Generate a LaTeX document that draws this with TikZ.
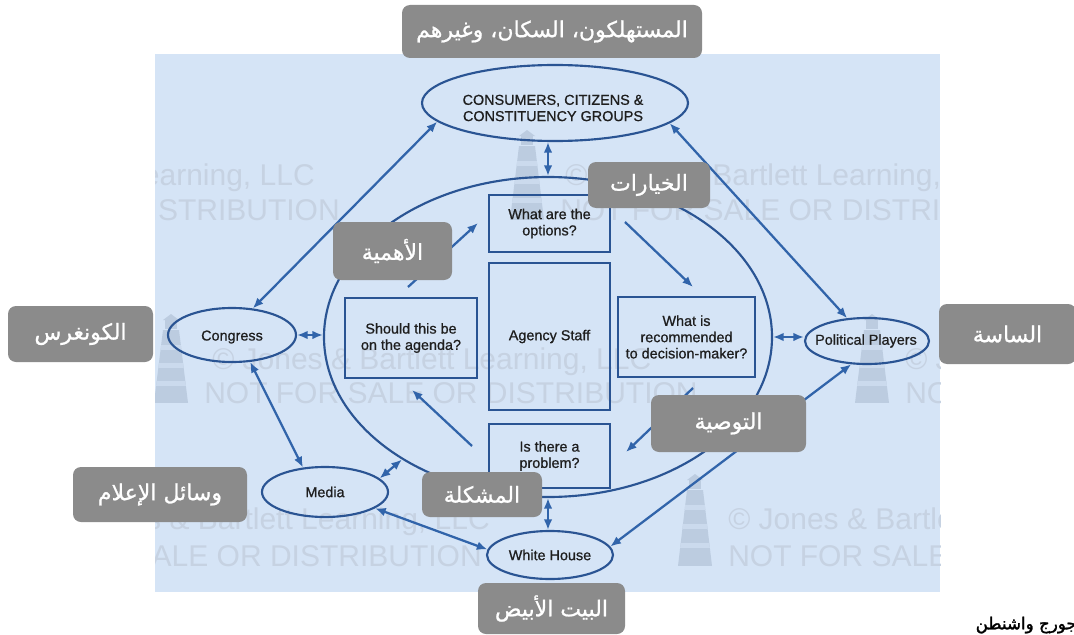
\documentclass[tikz,border=0pt]{standalone}
\usepackage{fontspec}
\setmainfont{Liberation Sans}
\newfontfamily\dtfam[FakeBold=0.8]{Liberation Sans}
\newfontfamily\arabicfont[Script=Arabic,FakeBold=0.9]{DejaVu Sans}
\newfontfamily\gwfont[Script=Arabic,FakeBold=1.6]{DejaVu Sans}
\TeXXeTstate=1
\usetikzlibrary{shapes.geometric,arrows.meta}
\definecolor{bgblue}{HTML}{D5E4F6}
\definecolor{wmcol}{HTML}{C6D2E2}
\definecolor{lhcol}{HTML}{BCCCE0}
\definecolor{linecol}{HTML}{2A5493}
\definecolor{arrcol}{HTML}{3164AA}
\definecolor{labgray}{HTML}{8B8B8B}
\definecolor{txtcol}{HTML}{1E1E1E}
\newcommand\dtfont{\dtfam\fontsize{10.8}{12.2}\selectfont}
\newcommand\lighthouse[3]{%
  \begin{scope}
    \clip (#1-8,#2+16) -- (#1+8,#2+16) -- (#1+17,#3) -- (#1-17,#3) -- cycle;
    \fill[lhcol] (#1-20,#2) rectangle (#1+20,#3);
    \foreach \f in {0.2,0.45,0.7}{\fill[bgblue!60!lhcol] (#1-20,{#2+16+(#3-#2-16)*\f}) rectangle (#1+20,{#2+16+(#3-#2-16)*\f+5});}
  \end{scope}
  \fill[lhcol] (#1-6,#2+5) rectangle (#1+6,#2+15);
  \fill[lhcol] (#1-8,#2+6) -- (#1,#2) -- (#1+8,#2+6) -- cycle;
}
\begin{document}
\begin{tikzpicture}[x=0.75pt,y=-0.75pt,
  ell/.style={draw=linecol, line width=1.6pt, ellipse, inner sep=0pt},
  bx/.style={draw=linecol, line width=1.6pt, rectangle, inner sep=0pt, align=center, text=txtcol, font=\dtfont},
  boxsize/.style 2 args={minimum width=#1*0.75pt, minimum height=#2*0.75pt},
  dtxt/.style={text=txtcol, font=\dtfont, align=center, inner sep=0pt},
  wm/.style={text=wmcol, inner sep=0pt, font=\fontsize{22.5}{24}\selectfont},
  arr/.style={draw=arrcol, line width=1.7pt, -{Latex[length=8pt,width=6.5pt]}},
  dbl/.style={draw=arrcol, line width=1.7pt, {Latex[length=8pt,width=6.5pt]}-{Latex[length=8pt,width=6.5pt]}},
  lab/.style={fill=labgray, rounded corners=6pt, text=white, inner sep=0pt, font=\arabicfont\fontsize{16.5}{19}\selectfont}
]
\fill[white] (0,0) rectangle (1074,635);
\useasboundingbox (0,0) rectangle (1074,635);
\fill[bgblue] (155,54) rectangle (940,592);
% watermark
\begin{scope}
\clip (155,54) rectangle (940,592);
\lighthouse{527}{130}{220}
\lighthouse{171}{314}{403}
\lighthouse{872}{314}{403}
\lighthouse{695}{474}{566}
\node[wm, anchor=east] (wm1) at (315,178) {© Jones \& Bartlett Learning, LLC};
\node[wm, anchor=east] (wm2) at (340,210) {NOT FOR SALE OR DISTRIBUTION};
\node[wm, anchor=west] (wm3) at (565,178) {© Jones \& Bartlett Learning, LLC};
\node[wm, anchor=west] (wm4) at (560,210) {NOT FOR SALE OR DISTRIBUTION};
\node[wm, anchor=west] (wm5) at (212,362) {© Jones \& Bartlett Learning, LLC};
\node[wm, anchor=west] (wm6) at (204,393) {NOT FOR SALE OR DISTRIBUTION};
\node[wm, anchor=west] (wm7) at (905,362) {© Jones \& Bartlett Learning, LLC};
\node[wm, anchor=west] (wm8) at (905,393) {NOT FOR SALE OR DISTRIBUTION};
\node[wm, anchor=east] (wm9) at (490,522) {© Jones \& Bartlett Learning, LLC};
\node[wm, anchor=east] (wm10) at (482,556) {NOT FOR SALE OR DISTRIBUTION};
\node[wm, anchor=west] (wm11) at (728,522) {© Jones \& Bartlett Learning, LLC};
\node[wm, anchor=west] (wm12) at (728,556) {NOT FOR SALE OR DISTRIBUTION};
\end{scope}
% ellipses
\node[ell, boxsize={448}{320}] (big) at (548,337) {};
\node[ell, boxsize={266}{76}] (cons) at (555,103) {};
\node[dtxt] (constxt) at (553,108) {CONSUMERS, CITIZENS \&\\CONSTITUENCY GROUPS};
\node[ell, boxsize={128}{54}] (cong) at (232,335) {};
\node[dtxt] (congtxt) at (232,337) {Congress};
\node[ell, boxsize={124}{46}] (pol) at (867,341) {};
\node[dtxt] (poltxt) at (866,341) {Political Players};
\node[ell, boxsize={126}{50}] (media) at (325,492) {};
\node[dtxt] (mediatxt) at (325,492) {Media};
\node[ell, boxsize={126}{48}] (wh) at (550,555) {};
\node[dtxt] (whtxt) at (550,555) {White House};
% boxes
\node[bx, boxsize={121}{57}] (opt) at (549.5,223.5) {What are the\\options?};
\node[bx, boxsize={121}{147}] (agency) at (549.5,336.5) {Agency Staff};
\node[bx, boxsize={121}{64}] (prob) at (549.5,456) {Is there a\\problem?};
\node[bx, boxsize={132}{80}] (should) at (411,338) {Should this be\\on the agenda?};
\node[bx, boxsize={137}{80}] (rec) at (686.5,337) {What is\\recommended\\to decision-maker?};
% connectors
\draw[dbl] (cons.189) -- (cong.52);
\draw[dbl] (cons.350) -- (pol.131);
\draw[dbl] (pol.236) -- (wh.8);
\draw[dbl] (cong.304) -- (media.132);
\draw[dbl] (media.-18) -- (wh.175);
\draw[dbl] (media.14) -- (big.220);
\draw[dbl] (cong.east) -- (cong.east -| big.west);
\draw[dbl] (big.east) -- (big.east -| pol.west);
\draw[dbl] (big.north) -- (big.north |- cons.south);
\draw[dbl] (big.south) -- (big.south |- wh.north);
\coordinate (a1s) at (472,446); \coordinate (a1e) at (412,390);
\coordinate (a2s) at (408,287); \coordinate (a2e) at (478,223);
\coordinate (a3s) at (625,222); \coordinate (a3e) at (693,287);
\coordinate (a4s) at (693,388); \coordinate (a4e) at (626,452);
\draw[arr] (a1s) -- (a1e);
\draw[arr] (a2s) -- (a2e);
\draw[arr] (a3s) -- (a3e);
\draw[arr] (a4s) -- (a4e);
% labels
\node[lab, boxsize={300}{53}] (l1) at (552,31.5) {\beginR المستهلكون، السكان، وغيرهم\endR};
\node[lab, boxsize={122}{46}] (l2) at (649,185) {\beginR الخيارات\endR};
\node[lab, boxsize={119}{58}] (l3) at (392.5,251) {\beginR الأهمية\endR};
\node[lab, boxsize={145}{56}] (l4) at (80.5,334) {\beginR الكونغرس\endR};
\node[lab, boxsize={137}{60}] (l5) at (1007.5,334) {\beginR الساسة\endR};
\node[lab, boxsize={155}{57}] (l6) at (728.5,423.5) {\beginR التوصية\endR};
\node[lab, boxsize={174}{55}] (l7) at (160,494.5) {\beginR وسائل الإعلام\endR};
\node[lab, boxsize={120}{45}] (l8) at (482,494.5) {\beginR المشكلة\endR};
\node[lab, boxsize={147}{51}] (l9) at (551.5,608.5) {\beginR البيت الأبيض\endR};
\node[anchor=east, inner sep=0pt, text=black, font=\gwfont\fontsize{12.5}{14}\selectfont] (gw) at (1077,625) {\beginR جورج واشنطن\endR};
\end{tikzpicture}
\end{document}
